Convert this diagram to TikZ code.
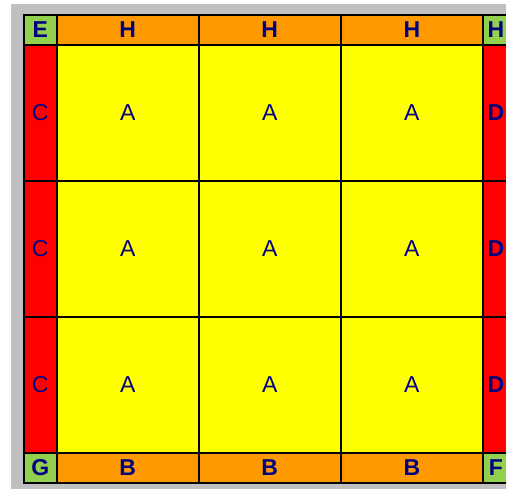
\documentclass[tikz,border=0pt]{standalone}
\usepackage{fontspec}
\setmainfont{Liberation Sans}
\usepackage{tikz}
\usetikzlibrary{positioning}
\usepackage{xcolor}
\definecolor{tilegold}{HTML}{FFFF00}
\definecolor{tileorange}{HTML}{FF9900}
\definecolor{tilered}{HTML}{FF0000}
\definecolor{tilegreen}{HTML}{92D050}
\definecolor{tilegray}{HTML}{C0C0C0}
\definecolor{tilenavy}{HTML}{000080}

\begin{document}
\begin{tikzpicture}[
        x=1pt, y=-1pt,
        every node/.style={font=\fontsize{23}{27}\selectfont, text=tilenavy},
        cell/.style={rectangle, draw=black, line width=1.6pt, inner sep=0pt,
            anchor=north west, align=center},
        inner/.style={cell, fill=tilegold, minimum width=142pt, minimum height=136pt},
        side/.style={cell, fill=tilered, minimum height=136pt},
        edge/.style={cell, fill=tileorange, minimum width=142pt, minimum height=30pt,
            font=\fontsize{23}{27}\selectfont\bfseries},
        corner/.style={cell, fill=tilegreen, minimum height=30pt,
            font=\fontsize{23}{27}\selectfont\bfseries},
    ]
    \useasboundingbox (0,0) rectangle (506,489);
    \fill[tilegray] (11,4) rectangle (506,489);
    \begin{scope}
    \clip (0,0) rectangle (506,489);
    % corners
    \node[corner, minimum width=33pt] (cornerE) at (23,14) {E};
    \node[corner, minimum width=26pt] (cornerH) at (482,14) {H};
    \node[corner, minimum width=33pt] (cornerG) at (23,452) {G};
    \node[corner, minimum width=26pt] (cornerF) at (482,452) {F};
    % top and bottom strips
    \foreach \i in {0,1,2} {
        \node[edge] (top\i) at (56+142*\i,14) {H};
        \node[edge] (bottom\i) at (56+142*\i,452) {B};
    }
    % left and right strips
    \foreach \j in {0,1,2} {
        \node[side, minimum width=33pt] (left\j) at (23,44+136*\j) {\raisebox{-3pt}{C}};
        \node[side, minimum width=26pt, font=\fontsize{23}{27}\selectfont\bfseries]
            (right\j) at (482,44+136*\j) {D};
    }
    % inner tiles
    \foreach \i in {0,1,2} {
        \foreach \j in {0,1,2} {
            \node[inner] (tile\i\j) at (56+142*\i,44+136*\j) {A};
        }
    }
    \end{scope}
\end{tikzpicture}
\end{document}
